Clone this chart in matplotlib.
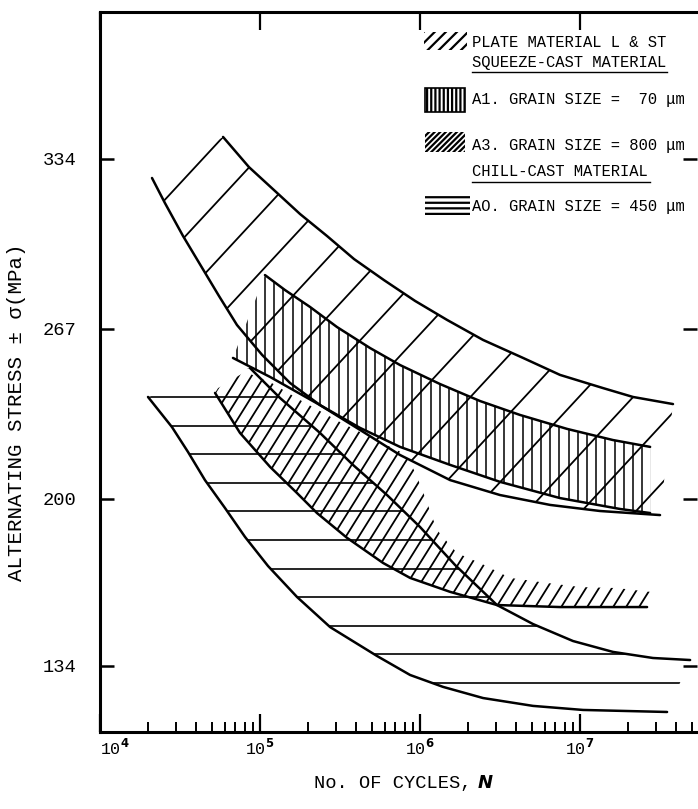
import numpy as np
import matplotlib
matplotlib.use("Agg")
import matplotlib.pyplot as plt
from matplotlib.patches import Polygon, Rectangle
from matplotlib.collections import LineCollection

plt.rcParams['font.family'] = ['Liberation Mono', 'DejaVu Sans Mono', 'DejaVu Sans']
plt.rcParams['mathtext.fontset'] = 'custom'
plt.rcParams['mathtext.tt'] = 'Liberation Mono'
plt.rcParams['mathtext.rm'] = 'Liberation Mono'
plt.rcParams['mathtext.bf'] = 'DejaVu Sans:bold'
plt.rcParams['hatch.linewidth'] = 1.6

# curves: log10(cycles) and stress in MPa
plate_upper_logn = [4.769, 4.931, 5.088, 5.25, 5.419, 5.588, 5.775, 5.969, 6.169, 6.394, 6.644, 6.875, 7.144, 7.331, 7.581]
plate_upper_mpa = [342.7, 330.8, 321.7, 312.3, 303.6, 294.5, 286.2, 278.0, 270.5, 262.6, 255.5, 248.8, 243.6, 240.1, 237.3]

plate_lower_logn = [4.325, 4.406, 4.519, 4.631, 4.744, 4.856, 5.013, 5.188, 5.375, 5.625, 5.875, 6.188, 6.5, 6.813, 7.125, 7.5]
plate_lower_mpa = [326.5, 316.6, 303.6, 291.8, 279.9, 268.5, 256.7, 245.6, 236.9, 227.1, 217.2, 207.3, 201.4, 197.5, 195.1, 193.5]

a1_upper_logn = [5.031, 5.156, 5.313, 5.481, 5.688, 5.875, 6.125, 6.375, 6.625, 6.919, 7.206, 7.438]
a1_upper_mpa = [288.2, 282.3, 275.6, 267.7, 259.4, 252.7, 245.2, 238.5, 233.0, 227.5, 223.1, 220.4]

a1_lower_logn = [4.831, 5.063, 5.375, 5.625, 5.875, 6.188, 6.5, 6.875, 7.25, 7.438]
a1_lower_mpa = [255.5, 248.0, 236.9, 227.9, 220.4, 213.3, 206.6, 200.2, 195.9, 194.3]

# top edge of the A3 hatching (no line drawn there)
a3_upper_logn = [4.738, 4.906, 5.063, 5.25, 5.5, 5.75, 5.906, 5.969, 6.031, 6.106, 6.231, 6.375, 6.563, 6.794, 7.0, 7.231, 7.438]
a3_upper_mpa = [243.6, 250.0, 246.0, 238.9, 230.2, 222.3, 217.6, 210.5, 200.6, 187.6, 178.5, 174.6, 168.7, 166.7, 165.1, 164.7, 163.2]

a3_lower_logn = [4.719, 4.875, 5.063, 5.231, 5.356, 5.544, 5.769, 5.938, 6.188, 6.481, 6.875, 7.419]
a3_lower_mpa = [241.7, 225.9, 212.5, 202.2, 194.3, 184.5, 174.6, 168.7, 163.2, 158.0, 157.2, 157.2]

a0_upper_logn = [4.938, 5.125, 5.375, 5.581, 5.794, 6.0, 6.219, 6.481, 6.706, 6.956, 7.206, 7.456, 7.688]
a0_upper_mpa = [251.5, 239.7, 225.9, 213.3, 201.4, 188.8, 173.8, 158.0, 150.5, 143.8, 139.5, 137.1, 136.3]

a0_lower_logn = [4.3, 4.45, 4.55, 4.656, 4.781, 4.906, 5.05, 5.231, 5.438, 5.731, 5.938, 6.144, 6.394, 6.706, 7.019, 7.544]
a0_lower_mpa = [240.1, 228.2, 218.4, 207.3, 196.3, 184.9, 173.4, 161.2, 149.3, 137.9, 130.4, 125.7, 121.3, 118.2, 116.6, 115.8]

ytick_vals = [134, 200, 267, 334]
xtick_exp = [4, 5, 6, 7]

legend_rows = ["PLATE MATERIAL L & ST", "SQUEEZE-CAST MATERIAL", "A1. GRAIN SIZE =  70 \u03bcm",
               "A3. GRAIN SIZE = 800 \u03bcm", "CHILL-CAST MATERIAL", "AO. GRAIN SIZE = 450 \u03bcm"]


def pts(logn, mpa):
    return np.column_stack([10.0 ** np.asarray(logn), np.asarray(mpa)])


def hatch(ax, poly_pts, angle, spacing, lw):
    # straight hatch lines in pixel space, clipped to the band outline
    poly = Polygon(poly_pts, closed=True, fill=False, edgecolor='none')
    ax.add_patch(poly)
    disp = ax.transData.transform(poly_pts)
    a = np.radians(angle)
    d = np.array([np.cos(a), np.sin(a)])
    nrm = np.array([-np.sin(a), np.cos(a)])
    t = disp @ nrm
    t0 = t[0]
    k0 = np.floor((t.min() - t0) / spacing)
    k1 = np.ceil((t.max() - t0) / spacing)
    c = disp.mean(axis=0)
    inv = ax.transAxes.inverted()
    segs = []
    for k in np.arange(k0, k1 + 1):
        base = c + (t0 + k * spacing - c @ nrm) * nrm
        segs.append(inv.transform([base - 1500 * d, base + 1500 * d]))
    lc = LineCollection(segs, colors='black', linewidths=lw, transform=ax.transAxes)
    lc.set_clip_path(poly)
    ax.add_collection(lc, autolim=False)


fig = plt.figure(figsize=(6.98, 8.09), dpi=100)
ax = fig.add_axes([100 / 698, 77 / 809, 597 / 698, 720 / 809])
ax.set_xscale('log')
ax.set_xlim(1e4, 10 ** 7.731)
ax.set_ylim(107.9, 392.0)
ax.set_autoscale_on(False)

plate_up = pts(plate_upper_logn, plate_upper_mpa)
plate_lo = pts(plate_lower_logn, plate_lower_mpa)
a1_up = pts(a1_upper_logn, a1_upper_mpa)
a1_lo = pts(a1_lower_logn, a1_lower_mpa)
a3_up = pts(a3_upper_logn, a3_upper_mpa)
a3_lo = pts(a3_lower_logn, a3_lower_mpa)
a0_up = pts(a0_upper_logn, a0_upper_mpa)
a0_lo = pts(a0_lower_logn, a0_lower_mpa)

hatch(ax, np.vstack([plate_up, plate_lo[::-1]]), 47.2, 39.8, 1.3)
hatch(ax, np.vstack([a1_up, a1_lo[::-1]]), 90, 9.2, 1.1)
hatch(ax, np.vstack([a3_up, a3_lo[::-1]]), 58, 11.0, 1.3)
hatch(ax, np.vstack([a0_lo, a0_up[::-1]]), 0, 28.6, 1.2)

for c in [plate_up, plate_lo, a1_up, a1_lo, a3_lo, a0_up, a0_lo]:
    ax.plot(c[:, 0], c[:, 1], color='black', lw=1.8, solid_capstyle='round')

# axes frame and ticks
for side in ['left', 'bottom', 'top']:
    ax.spines[side].set_linewidth(2.2)
ax.spines['right'].set_visible(False)

ax.set_xticks([10.0 ** e for e in xtick_exp])
ax.set_xticklabels([r'$\mathtt{10}^{\mathbf{%d}}$' % e for e in xtick_exp], fontsize=12)
ax.get_xticklabels()[0].set_ha('left')
ax.xaxis.set_minor_formatter(matplotlib.ticker.NullFormatter())
ax.set_yticks(ytick_vals)
ax.set_yticklabels([str(v) for v in ytick_vals], fontsize=13.5)
ax.tick_params(axis='x', which='major', direction='in', length=13, width=1.6, top=True, pad=4)
ax.tick_params(axis='x', which='minor', direction='in', length=7, width=1.4, top=False)
ax.tick_params(axis='y', which='major', direction='in', length=10, width=1.8, right=True, pad=17)
ax.tick_params(axis='y', which='minor', left=False, right=False)

ax.set_ylabel("ALTERNATING STRESS \u00b1 \u03c3(MPa)", fontsize=15)
ax.yaxis.set_label_coords(-0.124, 0.444)
ax.text(0.623, -0.071, "No. OF CYCLES,", transform=ax.transAxes, ha='right', va='center', fontsize=13.5)
ax.text(0.633, -0.071, "N", transform=ax.transAxes, ha='left', va='center', fontsize=13,
        family='DejaVu Sans', weight='bold', style='italic')

# legend drawn by hand
lx = 0.6231
ax.add_patch(Rectangle((0.5427, 0.947), 0.072, 0.025, transform=ax.transAxes,
                       facecolor='white', edgecolor='black', lw=0, hatch='///'))
ax.add_patch(Rectangle((0.5444, 0.8611), 0.067, 0.0333, transform=ax.transAxes,
                       facecolor='white', edgecolor='black', lw=1.2, hatch='||||'))
ax.add_patch(Rectangle((0.5444, 0.8056), 0.067, 0.0277, transform=ax.transAxes,
                       facecolor='white', edgecolor='black', lw=0, hatch='//////'))
ax.add_patch(Rectangle((0.5444, 0.717), 0.075, 0.032, transform=ax.transAxes,
                       facecolor='white', edgecolor='black', lw=0, hatch='---'))
rows_y = [0.9583, 0.9292, 0.8778, 0.8139, 0.7778, 0.7292]
for txt, yy in zip(legend_rows, rows_y):
    ax.text(lx, yy, txt, transform=ax.transAxes, ha='left', va='center', fontsize=11.2)
ax.plot([lx, 0.9497], [0.9167, 0.9167], color='black', lw=1.0, transform=ax.transAxes)
ax.plot([lx, 0.9213], [0.7639, 0.7639], color='black', lw=1.0, transform=ax.transAxes)

fig.savefig("out.png", dpi=100)
